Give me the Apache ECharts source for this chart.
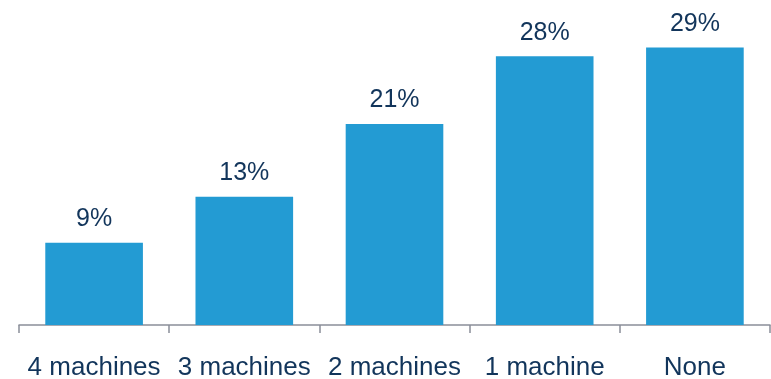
<!DOCTYPE html>
<html>
<head>
<meta charset="utf-8">
<script src="https://cdn.jsdelivr.net/npm/echarts@6/dist/echarts.min.js"></script>
<style>
  html, body { margin: 0; padding: 0; background: #fff; }
  #chart { width: 771px; height: 379px; }
</style>
</head>
<body>
<div id="chart"></div>
<script>
// categories and share of respondents (%)
const categories = ['4 machines', '3 machines', '2 machines', '1 machine', 'None'];
const shares = [8.6, 13.4, 21.0, 28.1, 29.0];

const textColor = '#12355b';
const chart = echarts.init(document.getElementById('chart'));

chart.setOption({
  animation: false,
  grid: { left: 19, right: 1, top: 38, bottom: 54, outerBoundsMode: 'none' },
  xAxis: {
    type: 'category',
    data: categories,
    axisLine: { lineStyle: { color: '#8a8f99', width: 1.5 } },
    axisTick: { show: true, length: 8, lineStyle: { color: '#8a8f99', width: 1.5 } },
    axisLabel: {
      interval: 0,
      color: textColor,
      fontFamily: 'Liberation Sans, Arial, sans-serif',
      fontSize: 26,
      margin: 30
    }
  },
  yAxis: {
    type: 'value',
    min: 0,
    max: 30,
    show: false,
    splitLine: { show: false }
  },
  series: [{
    type: 'bar',
    data: shares,
    barCategoryGap: '35%',
    itemStyle: { color: '#239bd3' },
    label: {
      show: true,
      position: 'top',
      distance: 11,
      color: textColor,
      fontFamily: 'Liberation Sans, Arial, sans-serif',
      fontSize: 25,
      formatter: p => Math.round(p.value) + '%'
    }
  }]
});
</script>
</body>
</html>
